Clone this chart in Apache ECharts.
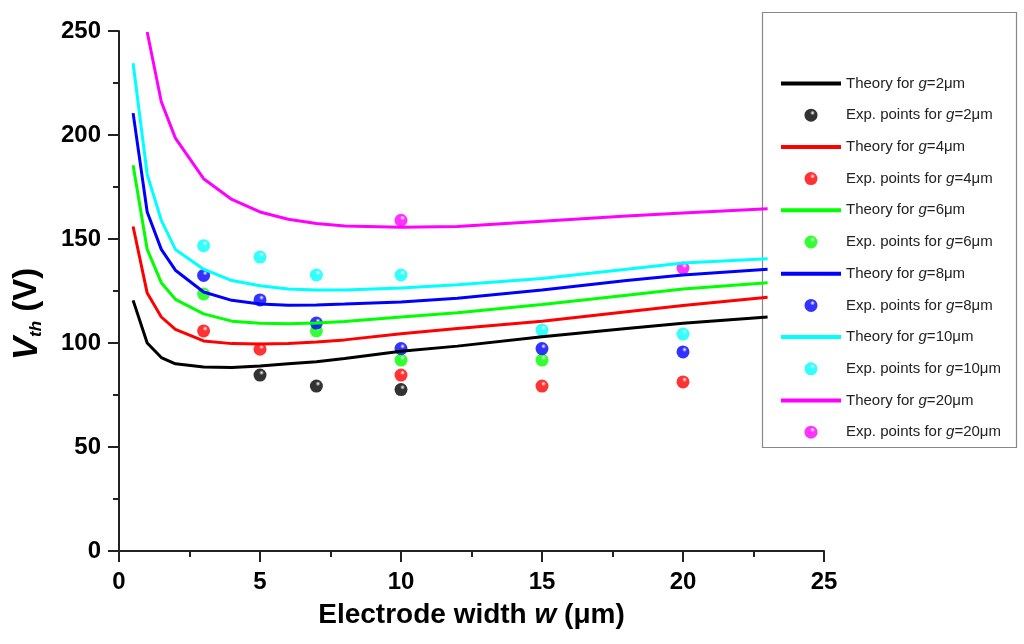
<!DOCTYPE html>
<html>
<head>
<meta charset="utf-8">
<script src="https://cdn.jsdelivr.net/npm/echarts@6/dist/echarts.min.js"></script>
<style>html,body{margin:0;padding:0;background:#fff}#c{width:1024px;height:644px}</style>
</head>
<body>
<div id="c"></div>
<script>
// Electrode width (µm) sampled for the theory curves
const wTheory = [0.5, 1, 1.5, 2, 3, 4, 5, 6, 7, 8, 10, 12, 15, 18, 20, 23];
const theoryG2  = [120.5, 100, 93, 90, 88.5, 88.2, 89, 90, 91, 92.5, 96, 98.5, 103, 107, 109.5, 112.5];
const theoryG4  = [156, 124, 112.5, 106.5, 101, 99.7, 99.5, 99.8, 100.5, 101.5, 104.5, 107, 110.5, 115, 118, 122];
const theoryG6  = [185.5, 145, 129, 121, 114, 110.5, 109.5, 109.3, 109.6, 110.3, 112.5, 114.5, 118.5, 123, 126, 129];
const theoryG8  = [210.5, 163, 145, 135, 124.5, 120.5, 118.7, 118.2, 118.3, 118.7, 119.7, 121.5, 125.5, 130, 132.7, 135.5];
const theoryG10 = [234.5, 181, 159, 145, 135.5, 130, 127.5, 126, 125.5, 125.5, 126.5, 128, 131, 135.5, 138.5, 140.5];
const theoryG20 = [null, 249.5, 216, 198.5, 179, 169, 163, 159.5, 157.5, 156.3, 155.7, 156, 158.5, 161, 162.5, 164.5];

// Experimental points: electrode widths and threshold voltages
const expG2W  = [5, 7, 10];               const expG2V  = [84.6, 79.3, 77.6];
const expG4W  = [3, 5, 10, 15, 20];       const expG4V  = [105.8, 97, 84.6, 79.3, 81.3];
const expG6W  = [3, 7, 10, 15];           const expG6V  = [123.6, 105.8, 91.8, 91.8];
const expG8W  = [3, 5, 7, 10, 15, 20];    const expG8V  = [132.5, 120.7, 109.6, 97.3, 97.3, 95.7];
const expG10W = [3, 5, 7, 10, 15, 20];    const expG10V = [146.8, 141.3, 132.7, 132.7, 106.2, 104.3];
const expG20W = [10, 20];                 const expG20V = [159, 136];

const gapLabels = ['2', '4', '6', '8', '10', '20'];
const colors = ['#000000', '#ff0000', '#00ff00', '#0000ff', '#00ffff', '#ff00ff'];
const xTicks = [0, 25, 5];   // min, max, interval
const yTicks = [0, 250, 50];

const theories = [theoryG2, theoryG4, theoryG6, theoryG8, theoryG10, theoryG20];
const expW = [expG2W, expG4W, expG6W, expG8W, expG10W, expG20W];
const expV = [expG2V, expG4V, expG6V, expG8V, expG10V, expG20V];

function zip(xs, ys) { return xs.map((x, i) => [x, ys[i]]); }
function sphere(c) {
  return {
    type: 'radial', x: 0.62, y: 0.32, r: 0.75,
    colorStops: [
      { offset: 0, color: '#ffffff' },
      { offset: 0.25, color: c },
      { offset: 0.85, color: c },
      { offset: 1, color: echarts.color.lift(c, -0.35) }
    ]
  };
}

const series = [];
const legendData = [];
gapLabels.forEach((g, i) => {
  const tName = 'Theory for {i|g}=' + g + 'μm';
  const eName = 'Exp. points for {i|g}=' + g + 'μm';
  series.push({
    name: tName, type: 'line', symbol: 'circle', showSymbol: false,
    data: zip(wTheory, theories[i]),
    lineStyle: { color: colors[i], width: 3 },
    itemStyle: { color: colors[i] },
    connectNulls: false
  });
  series.push({
    name: eName, type: 'scatter', symbol: 'circle', symbolSize: 13,
    data: zip(expW[i], expV[i]),
    itemStyle: { color: sphere(colors[i]) }
  });
  legendData.push({ name: tName, itemStyle: { opacity: 0 }, lineStyle: { width: 4 } });
  legendData.push({ name: eName, icon: 'circle' });
});

const FONT = "'Liberation Sans Narrow', 'Liberation Sans', Arial, sans-serif";
const BOLD = "'Liberation Sans', Arial, sans-serif";

const chart = echarts.init(document.getElementById('c'), null, { renderer: 'canvas' });
chart.setOption({
  animation: false,
  backgroundColor: '#ffffff',
  grid: { left: 119, right: 200, top: 31, bottom: 93, containLabel: false, outerBoundsMode: 'none' },
  xAxis: {
    type: 'value', min: xTicks[0], max: xTicks[1], interval: xTicks[2],
    name: 'Electrode width {i|w} (μm)',
    nameLocation: 'middle', nameGap: 50,
    nameTextStyle: {
      fontFamily: BOLD, fontWeight: 'bold', fontSize: 28, color: '#000',
      rich: { i: { fontFamily: BOLD, fontWeight: 'bold', fontStyle: 'italic', fontSize: 28, color: '#000' } }
    },
    axisLine: { show: true, onZero: false, lineStyle: { color: '#222', width: 2 } },
    axisTick: { show: true, inside: false, length: 11, lineStyle: { color: '#222', width: 2 } },
    minorTick: { show: true, splitNumber: 2, length: 6, lineStyle: { color: '#222', width: 2 } },
    splitLine: { show: false },
    axisLabel: { margin: 19, fontFamily: FONT, fontWeight: 'bold', fontSize: 24, color: '#000' }
  },
  yAxis: {
    type: 'value', min: yTicks[0], max: yTicks[1], interval: yTicks[2],
    name: '{v|V}{s|th} (V)',
    nameLocation: 'middle', nameGap: 74, nameRotate: 90,
    nameTextStyle: {
      fontFamily: BOLD, fontWeight: 'bold', fontSize: 33, color: '#000',
      padding: [0, 46, 0, 0],
      rich: {
        v: { fontFamily: BOLD, fontWeight: 'bold', fontStyle: 'italic', fontSize: 35, color: '#000', lineHeight: 36 },
        s: { fontFamily: BOLD, fontWeight: 'bold', fontStyle: 'italic', fontSize: 17, color: '#000', verticalAlign: 'bottom', lineHeight: 14 }
      }
    },
    axisLine: { show: true, onZero: false, lineStyle: { color: '#222', width: 2 } },
    axisTick: { show: true, inside: false, length: 11, lineStyle: { color: '#222', width: 2 } },
    minorTick: { show: true, splitNumber: 2, length: 6, lineStyle: { color: '#222', width: 2 } },
    splitLine: { show: false },
    axisLabel: { margin: 18, fontFamily: FONT, fontWeight: 'bold', fontSize: 24, color: '#000' }
  },
  legend: {
    orient: 'vertical', left: 779, top: 76, padding: 0,
    itemWidth: 60, itemHeight: 13, itemGap: 16.7,
    selectedMode: false,
    data: legendData,
    textStyle: {
      fontFamily: BOLD, fontSize: 15, color: '#222',
      rich: { i: { fontFamily: BOLD, fontStyle: 'italic', fontSize: 15, color: '#222' } }
    }
  },
  graphic: [{
    type: 'rect', z: 3, silent: true,
    shape: { x: 762.5, y: 12.5, width: 254, height: 435 },
    style: { fill: '#ffffff', stroke: '#888888', lineWidth: 1.2 }
  }],
  series: series
});
</script>
</body>
</html>
